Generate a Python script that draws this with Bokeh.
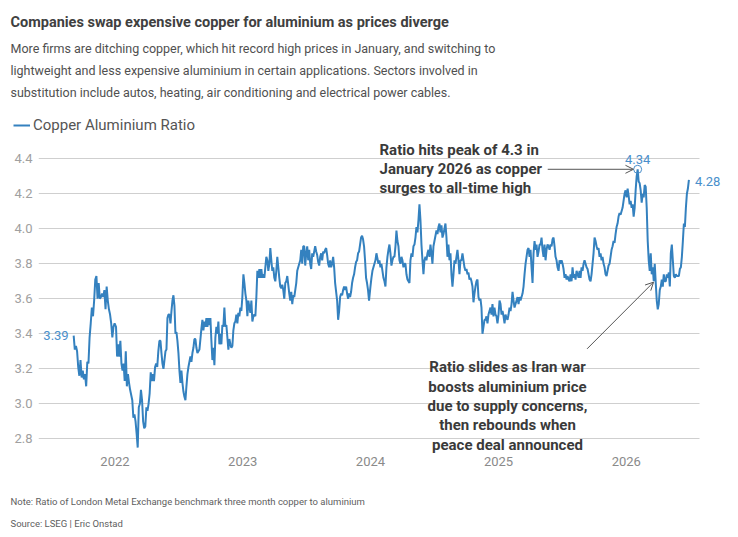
from datetime import datetime

import pandas as pd
from bokeh.embed import file_html
from bokeh.layouts import column
from bokeh.models import (Arrow, ColumnDataSource, DatetimeTickFormatter, FixedTicker,
                          Label, Legend, LegendItem, NumeralTickFormatter, OpenHead, Range1d)
from bokeh.plotting import figure
from bokeh.resources import INLINE

# LME three-month copper / aluminium price ratio, one block per period
ratio_2021 = [3.39, 3.31, 3.33, 3.30, 3.21, 3.16, 3.25, 3.15, 3.19, 3.14, 3.17, 3.10, 3.24,
              3.23, 3.38, 3.46, 3.55, 3.50, 3.59, 3.71, 3.73, 3.60, 3.69, 3.60, 3.61, 3.63,
              3.61, 3.65, 3.54, 3.67, 3.59, 3.54, 3.51, 3.46, 3.38, 3.44, 3.46]
ratio_2022_early = [3.44, 3.27, 3.34, 3.27, 3.36, 3.23, 3.19, 3.23, 3.13, 3.30, 3.10, 3.17,
                    3.12, 3.08, 3.05, 3.02, 2.92, 2.94, 2.90, 2.83, 2.75, 2.98, 3.00, 3.08,
                    3.02, 2.90, 2.86, 2.87, 2.98, 2.96, 3.00, 3.06, 3.18, 3.13, 3.17, 3.13,
                    3.21, 3.23, 3.21, 3.30, 3.36]
ratio_2022_late = [3.36, 3.29, 3.23, 3.20, 3.25, 3.30, 3.31, 3.49, 3.51, 3.51,
                   3.46, 3.53, 3.59, 3.62, 3.56, 3.40, 3.41, 3.36, 3.29, 3.19,
                   3.12, 3.19, 3.12, 3.07, 3.04, 3.02, 3.10, 3.17, 3.21, 3.24,
                   3.27, 3.24, 3.29, 3.32, 3.37, 3.37, 3.32, 3.29, 3.30, 3.31,
                   3.37, 3.43, 3.48, 3.42, 3.47, 3.44, 3.49, 3.44, 3.49, 3.45,
                   3.49, 3.36, 3.25, 3.32, 3.22, 3.38, 3.44, 3.40, 3.47, 3.34,
                   3.40, 3.34, 3.45, 3.44, 3.55, 3.44, 3.45, 3.38, 3.31, 3.37,
                   3.34, 3.32, 3.33, 3.42, 3.46, 3.47, 3.51, 3.46, 3.52, 3.50,
                   3.55, 3.53, 3.61]
ratio_2023 = [3.74, 3.69, 3.63, 3.59, 3.50, 3.59, 3.55, 3.52, 3.59, 3.47, 3.50, 3.51,
              3.50, 3.61, 3.76, 3.72, 3.77, 3.72, 3.77, 3.72, 3.74, 3.72,
              3.78, 3.84, 3.82, 3.76, 3.80, 3.89, 3.82, 3.76, 3.78, 3.72,
              3.70, 3.76, 3.84, 3.78, 3.72, 3.67, 3.66, 3.68, 3.65, 3.60,
              3.69, 3.70, 3.73, 3.68, 3.63, 3.59, 3.64, 3.57, 3.62, 3.61,
              3.65, 3.69, 3.76, 3.78, 3.80, 3.82, 3.88, 3.80, 3.90, 3.90,
              3.79, 3.86, 3.90, 3.82, 3.88, 3.80, 3.77, 3.86, 3.84, 3.87,
              3.90, 3.87, 3.85, 3.81, 3.79, 3.84, 3.86, 3.82, 3.87, 3.86,
              3.88, 3.89, 3.85, 3.80, 3.78, 3.82, 3.78, 3.80, 3.84, 3.78,
              3.69, 3.64, 3.59, 3.48, 3.53, 3.61, 3.63, 3.62, 3.65, 3.67,
              3.65, 3.67, 3.63, 3.60, 3.63,
              3.61, 3.64, 3.69, 3.72, 3.74, 3.78, 3.81, 3.82, 3.86, 3.87,
              3.91, 3.95, 3.96, 3.94, 3.90, 3.82, 3.72, 3.69, 3.65, 3.59]
ratio_2024 = [3.67, 3.72, 3.76, 3.78, 3.80, 3.82, 3.86, 3.83, 3.80, 3.82,
              3.78, 3.80, 3.76, 3.72, 3.70, 3.67, 3.78, 3.84, 3.88, 3.91,
              3.86, 3.79, 3.82, 3.84, 3.84, 3.90, 3.99, 3.93, 3.90, 3.82,
              3.80, 3.84, 3.82, 3.78, 3.80, 3.80, 3.74, 3.71, 3.70, 3.69,
              3.82, 3.86, 3.84, 3.90, 3.91, 3.95, 4.01, 3.98, 4.05, 4.14,
              4.05, 3.91, 3.82, 3.74, 3.82, 3.84, 3.82, 3.86, 3.88, 3.84,
              3.91, 3.86, 3.80, 3.90, 3.93, 3.96, 3.99, 3.97, 4.01, 4.03,
              3.98, 4.02, 3.95, 3.97, 4.00, 4.03, 3.95, 3.84, 3.91, 3.82,
              3.86, 3.74, 3.67, 3.74, 3.82, 3.80, 3.84, 3.88, 3.82, 3.74,
              3.82, 3.82, 3.86, 3.82, 3.78, 3.76, 3.77, 3.74, 3.75, 3.71,
              3.72, 3.70, 3.67, 3.58, 3.63, 3.67, 3.70, 3.71, 3.61, 3.59,
              3.60, 3.55, 3.40, 3.44, 3.48, 3.48, 3.50, 3.46, 3.51, 3.53,
              3.55, 3.51, 3.57, 3.50, 3.55, 3.51, 3.50, 3.46]
ratio_2025 = [3.51, 3.59, 3.57, 3.51, 3.53, 3.50, 3.46, 3.51, 3.49, 3.48,
              3.51, 3.55, 3.53, 3.57, 3.64, 3.59, 3.55, 3.57, 3.59, 3.61,
              3.57, 3.61, 3.59, 3.61, 3.63, 3.67, 3.74, 3.80, 3.84, 3.88,
              3.89, 3.84, 3.88, 3.78, 3.69, 3.86, 3.93, 3.88, 3.91, 3.84,
              3.87, 3.91, 3.91, 3.95, 3.88, 3.84, 3.91, 3.82, 3.88, 3.91,
              3.90, 3.88, 3.91, 3.90, 3.94, 3.95, 3.90, 3.84, 3.82, 3.78,
              3.76, 3.82, 3.80, 3.82, 3.80, 3.77, 3.72, 3.74, 3.71, 3.73,
              3.71, 3.70, 3.74, 3.70, 3.78, 3.72, 3.74, 3.71, 3.76, 3.74,
              3.72, 3.76, 3.72, 3.78, 3.76, 3.80, 3.82, 3.80, 3.78, 3.77,
              3.74, 3.71, 3.70, 3.74, 3.80, 3.86, 3.95, 3.93, 3.90, 3.88,
              3.89, 3.84, 3.86, 3.82, 3.84, 3.80, 3.78, 3.74, 3.73, 3.76,
              3.79, 3.80, 3.84, 3.88, 3.90, 3.93, 3.92, 3.97, 4.01, 4.03,
              4.07, 4.09, 4.08, 4.10, 4.12, 4.16, 4.20, 4.22]
ratio_2026 = [4.18, 4.23, 4.19, 4.14,
              4.16, 4.12, 4.14, 4.07, 4.12, 4.22, 4.30, 4.34, 4.27, 4.26,
              4.22, 4.15, 4.20, 4.18, 4.25, 4.24, 4.12, 3.93, 3.82, 3.76,
              3.86, 3.74, 3.78, 3.70, 3.80, 3.69, 3.59, 3.54, 3.57, 3.65,
              3.67, 3.71, 3.67, 3.74, 3.70, 3.70, 3.74, 3.72, 3.75, 3.67,
              3.86, 3.91, 3.82, 3.73, 3.72, 3.74, 3.73, 3.73, 3.73, 3.77,
              3.78, 3.84, 3.93, 4.03, 4.01, 4.12, 4.20, 4.23, 4.28]

# first and last trading dates spanned by each block
blocks = [
    ("2021-09-05", "2021-12-31", ratio_2021),
    ("2022-01-04", "2022-05-08", ratio_2022_early),
    ("2022-05-11", "2022-12-31", ratio_2022_late),
    ("2023-01-03", "2023-12-28", ratio_2023),
    ("2024-01-01", "2024-12-29", ratio_2024),
    ("2025-01-01", "2025-12-30", ratio_2025),
    ("2026-01-02", "2026-06-29", ratio_2026),
]

year_ticks = [2022, 2023, 2024, 2025, 2026]
ratio_ticks = [2.8, 3.0, 3.2, 3.4, 3.6, 3.8, 4.0, 4.2, 4.4]

dates, ratios = [], []
for start, end, vals in blocks:
    dates.extend(pd.date_range(start, end, periods=len(vals)))
    ratios.extend(vals)
src = ColumnDataSource(data=dict(date=dates, ratio=ratios))

W = 738
HEAD_H, CHART_H, FOOT_H = 136, 339, 62
LINE_BLUE = "#3481bf"
LABEL_BLUE = "#4a8fcb"
FONT = "Roboto"
ANN_COLOR = "#3a3a3a"
ARROW_COLOR = "#555555"


def ms(ts):
    return pd.Timestamp(ts).value / 1e6


def no_align(f):
    # keep each strip's frame where its own borders put it
    if "frame_align" in f.properties():
        f.frame_align = False
    return f


def text_panel(height):
    """Blank strip whose data units are canvas pixels (y grows downward)."""
    f = figure(width=W, height=height, output_backend="svg", toolbar_location=None,
               x_range=Range1d(0, W), y_range=Range1d(height, 0), title=None,
               x_axis_location=None, y_axis_location=None,
               min_border=0, min_border_left=0, min_border_right=0,
               min_border_top=0, min_border_bottom=0)
    f.grid.visible = False
    f.outline_line_color = None
    f.background_fill_color = "white"
    f.border_fill_color = "white"
    return no_align(f)


def put(f, x, y, text, size, color, bold=False, align="left"):
    f.add_layout(Label(x=x, y=y, text=text, text_font=FONT, text_font_size=size,
                       text_color=color, text_font_style="bold" if bold else "normal",
                       text_align=align, text_baseline="alphabetic"))


# ---- header: headline, deck and legend ----
head = text_panel(HEAD_H)
put(head, 10, 22, "Companies swap expensive copper for aluminium as prices diverge",
    "14.5px", "#404040", bold=True)
deck = ["More firms are ditching copper, which hit record high prices in January, and switching to",
        "lightweight and less expensive aluminium in certain applications. Sectors involved in",
        "substitution include autos, heating, air conditioning and electrical power cables."]
for i, line in enumerate(deck):
    put(head, 10, 48.3 + 21.8 * i, line, "12.5px", "#505050")

swatch = head.line(x=[float("nan")], y=[float("nan")], line_color=LINE_BLUE, line_width=2)
head.add_layout(Legend(items=[LegendItem(label="Copper Aluminium Ratio", renderers=[swatch])],
                       location=(13, 2), orientation="horizontal",
                       label_text_font=FONT, label_text_font_size="15px",
                       label_text_color="#555555", glyph_width=17, glyph_height=16,
                       label_height=16, label_standoff=3, padding=0, margin=0, spacing=0,
                       border_line_color=None, background_fill_alpha=0))

# ---- chart ----
p = figure(width=W, height=CHART_H, x_axis_type="datetime", title=None,
           output_backend="svg", toolbar_location=None,
           x_range=Range1d(datetime(2021, 5, 27, 12), datetime(2026, 11, 17, 17)),
           y_range=Range1d(2.716, 4.5274),
           min_border_left=38, min_border_right=0,
           min_border_top=0, min_border_bottom=22)
no_align(p)
p.outline_line_color = None
p.background_fill_color = "white"
p.border_fill_color = "white"

p.xaxis.ticker = FixedTicker(ticks=[ms(f"{y}-01-01") for y in year_ticks])
p.xaxis.formatter = DatetimeTickFormatter(years="%Y", months="%Y", days="%Y",
                                          hours="%Y", hourmin="%Y")
p.yaxis.ticker = FixedTicker(ticks=ratio_ticks)
p.yaxis.formatter = NumeralTickFormatter(format="0.0")
for ax in (p.xaxis, p.yaxis):
    ax.axis_line_color = None
    ax.major_tick_line_color = None
    ax.minor_tick_line_color = None
    ax.major_tick_out = 0
    ax.major_tick_in = 0
    ax.major_label_text_font = FONT
    ax.major_label_text_font_size = "13px"
p.xaxis.major_label_text_color = "#8a8a8a"
p.yaxis.major_label_text_color = "#a0a0a0"
p.xaxis.major_label_standoff = 3
p.yaxis.major_label_standoff = 6
p.xgrid.grid_line_color = None
ygrid = p.ygrid[0]
ygrid.ticker = FixedTicker(ticks=ratio_ticks)
ygrid.grid_line_color = "#cfcfcf"
ygrid.grid_line_width = 1
if "cross_bounds" in ygrid.properties():
    ygrid.cross_bounds = (ms("2021-05-27 12:00"), ms("2026-07-29 10:00"))

r = p.line("date", "ratio", source=src, line_color=LINE_BLUE, line_width=2)

peak_i = max(range(len(ratios)), key=lambda i: ratios[i])
peak_d, peak_v = dates[peak_i], ratios[peak_i]
p.scatter(x=[peak_d], y=[peak_v], marker="circle", size=8, fill_color=None,
          line_color=LABEL_BLUE, line_width=1)


def value_label(d, v, **kw):
    p.add_layout(Label(x=ms(d), y=v, text=f"{v:.2f}", text_font=FONT,
                       text_font_size="13px", text_color=LABEL_BLUE, **kw))


value_label(peak_d, peak_v, text_align="center", text_baseline="alphabetic", y_offset=10)
value_label(dates[-1], ratios[-1], text_align="left", text_baseline="middle",
            x_offset=6, y_offset=-2)
value_label(dates[0], ratios[0], text_align="right", text_baseline="middle",
            x_offset=-5, y_offset=0)

day = pd.Timedelta(days=1)
p.add_layout(Arrow(end=OpenHead(size=8, line_color=ARROW_COLOR, line_width=1),
                   x_start=ms(peak_d - 257 * day), y_start=peak_v,
                   x_end=ms(peak_d - 12 * day), y_end=peak_v,
                   line_color=ARROW_COLOR, line_width=1))
p.add_layout(Arrow(end=OpenHead(size=8, line_color=ARROW_COLOR, line_width=1),
                   x_start=ms("2025-09-11"), y_start=3.314,
                   x_end=ms("2026-03-20"), y_end=3.695,
                   line_color=ARROW_COLOR, line_width=1))


def note(x, y, text, align):
    p.add_layout(Label(x=x, y=y, x_units="canvas", y_units="canvas", text=text,
                       text_font=FONT, text_font_style="bold", text_font_size="15px",
                       text_color=ANN_COLOR, text_align=align, text_baseline="alphabetic"))


note_peak = ["Ratio hits peak of 4.3 in", "January 2026 as copper",
             "surges to all-time high"]
for i, line in enumerate(note_peak):
    note(379, 13 + 19.4 * i, line, "left")

note_iran = ["Ratio slides as Iran war", "boosts aluminium price",
             "due to supply concerns,", "then rebounds when", "peace deal announced"]
for i, line in enumerate(note_iran):
    note(507, 230.7 + 19.4 * i, line, "center")

# ---- footer ----
foot = text_panel(FOOT_H)
put(foot, 10, 25.7, "Note: Ratio of London Metal Exchange benchmark three month copper to aluminium",
    "9.5px", "#606060")
put(foot, 10, 48.3, "Source: LSEG | Eric Onstad", "9.5px", "#606060")

page = column(head, p, foot, spacing=0)
open("out.html", "w").write(file_html(page, INLINE))
